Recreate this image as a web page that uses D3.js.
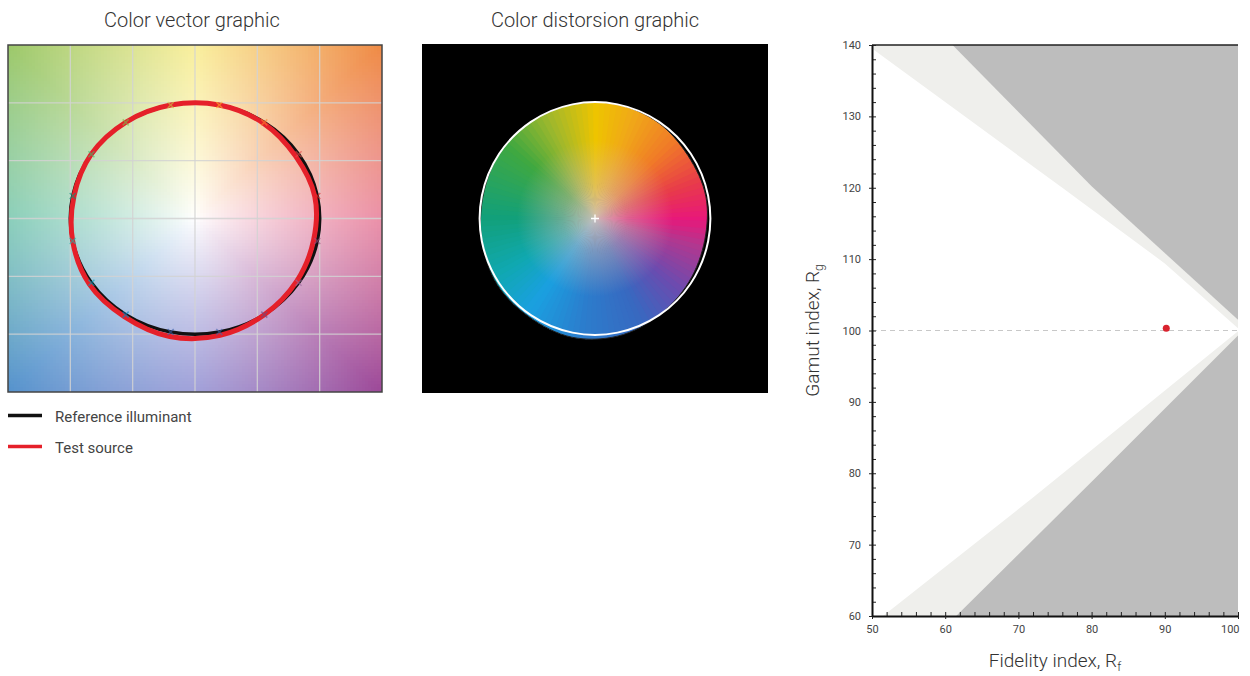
<!DOCTYPE html>
<html>
<head>
<meta charset="utf-8">
<script src="https://cdn.jsdelivr.net/npm/d3@7"></script>
<style>
body { margin: 0; background: #fff; }
svg { display: block; font-family: Roboto, "Noto Sans", sans-serif; }
</style>
</head>
<body>
<svg id="chart" width="1240" height="676"></svg>
<script>
//Data
// 16 hue bins, reference = unit circle, test = measured source (a', b')
const hueBins = [1, 2, 3, 4, 5, 6, 7, 8, 9, 10, 11, 12, 13, 14, 15, 16];
const refA = [0.981, 0.831, 0.556, 0.195, -0.195, -0.556, -0.831, -0.981, -0.981, -0.831, -0.556, -0.195, 0.195, 0.556, 0.831, 0.981];
const refB = [0.195, 0.556, 0.831, 0.981, 0.981, 0.831, 0.556, 0.195, -0.195, -0.556, -0.831, -0.981, -0.981, -0.831, -0.556, -0.195];
const testA = [0.961, 0.807, 0.550, 0.195, -0.195, -0.556, -0.832, -0.971, -0.981, -0.848, -0.567, -0.203, 0.201, 0.556, 0.815, 0.951];
const testB = [0.191, 0.539, 0.823, 0.981, 0.981, 0.832, 0.556, 0.193, -0.195, -0.567, -0.848, -1.020, -1.010, -0.832, -0.544, -0.189];
const binColors = ['#e62828', '#e74b4b', '#fb812e', '#ffb529', '#cbca46', '#7eb94c', '#41c06d', '#009c7c',
    '#16bcb0', '#00a4bf', '#0085c3', '#3b62aa', '#4568ae', '#6a4e85', '#9d69a1', '#a74f81'];
const gridTicks = [-1.5, -1, -0.5, 0, 0.5, 1, 1.5];

// background hue of the vector graphic (angle in degrees, counter-clockwise from a')
const bgAngles = [0, 45, 90, 135, 180, 225, 270, 315, 360];
const bgColors = ['#e46a8a', '#ef8a45', '#f7e97a', '#9cc86a', '#62bea2', '#5592cc', '#8080cc', '#9c4898', '#e46a8a'];
// colour wheel of the distortion graphic
const wheelAngles = [0, 20, 45, 70, 90, 115, 140, 180, 210, 235, 265, 295, 320, 345, 360];
const wheelColors = ['#e8187a', '#e83a4a', '#f07a28', '#f0a818', '#eec400', '#a0b82c', '#40a840', '#12a07a', '#10a8b0',
    '#1aa0e0', '#2c7ccc', '#3868c0', '#6a4cb0', '#b03890', '#e8187a'];

// Rf - Rg chart
const sourceRf = [90.2];
const sourceRg = [100.3];
const rfTicks = [50, 60, 70, 80, 90, 100];
const rgTicks = [60, 70, 80, 90, 100, 110, 120, 130, 140];
const upperLight = [[50, 140], [100, 140], [100, 100.3], [90, 109.4], [76, 120], [50, 139.5]];
const upperGray = [[61, 140], [100, 140], [100, 101.5], [80, 120.2]];
const lowerLight = [[51.5, 60], [100, 60], [100, 99.9], [72, 76.6]];
const lowerGray = [[61.5, 60], [100, 60], [100, 99.3], [80, 78.8]];

const legendItems = ['Reference illuminant', 'Test source'];
const legendColors = ['#111', '#e5202a'];

function hueColor(angles, colors, deg) {
    deg = ((deg % 360) + 360) % 360;
    const i = Math.min(d3.bisectRight(angles, deg) - 1, angles.length - 2);
    const t = (deg - angles[i]) / (angles[i + 1] - angles[i]);
    return d3.interpolateRgb(colors[i], colors[i + 1])(t);
}

const svg = d3.select('#chart');
const defs = svg.append('defs');
const testPts = hueBins.map((b, i) => [testA[i], testB[i]]);
const refPts = hueBins.map((b, i) => [refA[i], refB[i]]);

//---------- Color vector graphic
function drawVector() {
    const vx = d3.scaleLinear([-1.5, 1.5], [8, 382]);
    const vy = d3.scaleLinear([-1.5, 1.5], [392, 45]);
    defs.append('clipPath').attr('id', 'vclip').append('rect')
        .attr('x', 8).attr('y', 45).attr('width', 374).attr('height', 347);
    const g = svg.append('g');
    const bg = g.append('g').attr('clip-path', 'url(#vclip)');
    const cells = [];
    d3.range(8, 382, 3).forEach(px => d3.range(45, 392, 3).forEach(py => cells.push({ px, py })));
    bg.selectAll('rect').data(cells).join('rect')
        .attr('x', d => d.px).attr('y', d => d.py)
        .attr('width', 3.5).attr('height', 3.5)
        .attr('shape-rendering', 'crispEdges')
        .attr('fill', d => {
            const a = vx.invert(d.px + 1.5), b = vy.invert(d.py + 1.5);
            const dist = Math.hypot(a, b);
            const ang = Math.atan2(b, a) * 180 / Math.PI;
            const t = Math.pow(Math.min(1, dist / 2.12), 0.85);
            return d3.interpolateRgb('#ffffff', hueColor(bgAngles, bgColors, ang))(t);
        });
    // grid
    bg.selectAll('.gx').data(gridTicks.slice(1, -1)).join('line').attr('class', 'gx')
        .attr('x1', d => vx(d)).attr('x2', d => vx(d)).attr('y1', 45).attr('y2', 392)
        .attr('stroke', 'rgba(210,210,210,0.85)').attr('stroke-width', 1.3);
    bg.selectAll('.gy').data(gridTicks.slice(1, -1)).join('line').attr('class', 'gy')
        .attr('y1', d => vy(d)).attr('y2', d => vy(d)).attr('x1', 8).attr('x2', 382)
        .attr('stroke', 'rgba(210,210,210,0.85)').attr('stroke-width', 1.3);

    const line = d3.line().x(d => vx(d[0])).y(d => vy(d[1]));
    g.append('path').attr('d', line.curve(d3.curveCardinalClosed)(refPts))
        .attr('fill', 'none').attr('stroke', '#111').attr('stroke-width', 3.5);
    g.append('path').attr('d', line.curve(d3.curveCatmullRomClosed)(testPts))
        .attr('fill', 'none').attr('stroke', '#e5202a').attr('stroke-width', 5)
        .attr('stroke-linejoin', 'round');
    // hue bin markers
    g.selectAll('.mk').data(hueBins).join('path').attr('class', 'mk')
        .attr('d', (b, i) => {
            const cx = vx(refA[i]), cy = vy(refB[i]);
            return `M${cx - 3},${cy - 3}L${cx + 3},${cy + 3}M${cx - 3},${cy + 3}L${cx + 3},${cy - 3}`;
        })
        .attr('stroke', (b, i) => binColors[i]).attr('stroke-width', 1.5).attr('opacity', 0.6);

    g.append('rect').attr('x', 8).attr('y', 45).attr('width', 374).attr('height', 347)
        .attr('fill', 'none').attr('stroke', '#444').attr('stroke-width', 1.5);
    svg.append('text').attr('x', 192).attr('y', 27).attr('text-anchor', 'middle')
        .style('font-size', '20px').style('font-weight', 300).style('fill', '#333')
        .text('Color vector graphic');

    // legend
    const lg = svg.append('g').selectAll('g').data(legendItems).join('g')
        .attr('transform', (d, i) => `translate(8,${415.5 + i * 31})`);
    lg.append('line').attr('x1', 0).attr('x2', 34).attr('stroke', (d, i) => legendColors[i]).attr('stroke-width', 3.5);
    lg.append('text').attr('x', 47).attr('y', 6).style('font-size', '15px').style('fill', '#444').text(d => d);
}

//---------- Color distorsion graphic
function drawDistortion() {
    const dx = d3.scaleLinear([-1.5, 1.5], [422, 768]);
    const dy = d3.scaleLinear([-1.5, 1.5], [393, 44]);
    const g = svg.append('g');
    g.append('rect').attr('x', 422).attr('y', 44).attr('width', 346).attr('height', 349).attr('fill', '#000');
    const line = d3.line().x(d => dx(d[0])).y(d => dy(d[1])).curve(d3.curveCatmullRomClosed);
    defs.append('clipPath').attr('id', 'dclip').append('path').attr('d', line(testPts));
    const grad = defs.append('radialGradient').attr('id', 'wheelCenter');
    grad.append('stop').attr('offset', '0%').attr('stop-color', '#d8cac4').attr('stop-opacity', 0.9);
    grad.append('stop').attr('offset', '25%').attr('stop-color', '#d4bcb4').attr('stop-opacity', 0.45);
    grad.append('stop').attr('offset', '60%').attr('stop-color', '#d4bcb4').attr('stop-opacity', 0);

    const wheel = g.append('g').attr('clip-path', 'url(#dclip)');
    const cx = dx(0), cy = dy(0);
    const arc = d3.arc().innerRadius(0).outerRadius(160);
    wheel.selectAll('path').data(d3.range(0, 360, 3)).join('path')
        .attr('transform', `translate(${cx},${cy})`)
        .attr('d', a => arc({ startAngle: (90 - a - 2) * Math.PI / 180, endAngle: (90 - a + 2) * Math.PI / 180 }))
        .attr('fill', a => hueColor(wheelAngles, wheelColors, a));
    wheel.append('circle').attr('cx', cx).attr('cy', cy).attr('r', 130).attr('fill', 'url(#wheelCenter)');

    g.append('path').attr('d', line(testPts)).attr('fill', 'none').attr('stroke', '#222').attr('stroke-width', 1);
    g.append('path').attr('d', d3.line().x(d => dx(d[0])).y(d => dy(d[1])).curve(d3.curveCardinalClosed)(refPts))
        .attr('fill', 'none').attr('stroke', '#fff').attr('stroke-width', 2);
    g.append('path').attr('d', `M${cx - 4},${cy}H${cx + 4}M${cx},${cy - 4}V${cy + 4}`)
        .attr('stroke', '#fff').attr('stroke-width', 1.3);

    svg.append('text').attr('x', 595).attr('y', 27).attr('text-anchor', 'middle')
        .style('font-size', '20px').style('font-weight', 300).style('fill', '#333')
        .text('Color distorsion graphic');
}

//---------- Rf - Rg chart
function drawRfRg() {
    const x = d3.scaleLinear([50, 100], [872, 1238]);
    const y = d3.scaleLinear([60, 140], [616, 45]);
    const g = svg.append('g');
    const poly = d3.line().x(d => x(d[0])).y(d => y(d[1]));
    g.append('rect').attr('x', x(50)).attr('y', y(140)).attr('width', x(100) - x(50)).attr('height', y(60) - y(140)).attr('fill', '#fff');
    g.append('path').attr('d', poly(upperLight) + 'Z').attr('fill', '#efefec');
    g.append('path').attr('d', poly(lowerLight) + 'Z').attr('fill', '#efefec');
    g.append('path').attr('d', poly(upperGray) + 'Z').attr('fill', '#bdbdbd');
    g.append('path').attr('d', poly(lowerGray) + 'Z').attr('fill', '#bdbdbd');

    g.append('line').attr('x1', x(50)).attr('x2', x(100)).attr('y1', y(100)).attr('y2', y(100))
        .attr('stroke', '#c8c8c8').attr('stroke-width', 1).attr('stroke-dasharray', '5,4');
    g.selectAll('.pt').data(sourceRf).join('circle').attr('class', 'pt')
        .attr('cx', d => x(d)).attr('cy', (d, i) => y(sourceRg[i])).attr('r', 3.5).attr('fill', '#d9232e');

    // top border
    g.append('line').attr('x1', x(50)).attr('x2', x(100)).attr('y1', y(140)).attr('y2', y(140))
        .attr('stroke', '#222').attr('stroke-width', 1.6);

    // minor ticks (inward)
    g.append('g').attr('transform', `translate(0,${y(60)})`)
        .call(d3.axisBottom(x).tickValues(d3.range(50, 101, 2)).tickSize(-4).tickFormat(''))
        .call(a => a.select('.domain').remove());
    g.append('g').attr('transform', `translate(${x(50)},0)`)
        .call(d3.axisLeft(y).tickValues(d3.range(60, 141, 2)).tickSize(-4).tickFormat(''))
        .call(a => a.select('.domain').remove());
    // major ticks + labels
    const xAxis = g.append('g').attr('transform', `translate(0,${y(60)})`)
        .call(d3.axisBottom(x).tickValues(rfTicks).tickSizeInner(3).tickSizeOuter(0).tickPadding(6));
    const yAxis = g.append('g').attr('transform', `translate(${x(50)},0)`)
        .call(d3.axisLeft(y).tickValues(rgTicks).tickSizeInner(3).tickSizeOuter(0).tickPadding(8));
    [xAxis, yAxis].forEach(a => {
        a.select('.domain').attr('stroke', '#111').attr('stroke-width', 2);
        a.selectAll('text').style('font-size', '11px').style('fill', '#444').style('font-family', 'Roboto, sans-serif');
    });
    // last label sits flush against the right edge
    xAxis.selectAll('.tick text').filter(d => d === 100).attr('text-anchor', 'end').attr('x', 1);
    g.selectAll('.tick line').attr('stroke', '#222');

    const xl = svg.append('text').attr('x', 1055).attr('y', 667).attr('text-anchor', 'middle')
        .style('font-size', '19px').style('font-weight', 300).style('fill', '#333');
    xl.append('tspan').text('Fidelity index, R');
    xl.append('tspan').attr('dy', 4).style('font-size', '12px').text('f');
    const yl = svg.append('text').attr('transform', `translate(819,${y(100)}) rotate(-90)`).attr('text-anchor', 'middle')
        .style('font-size', '19px').style('font-weight', 300).style('fill', '#333');
    yl.append('tspan').text('Gamut index, R');
    yl.append('tspan').attr('dy', 4).style('font-size', '12px').text('g');
}

drawVector();
drawDistortion();
drawRfRg();
</script>
</body>
</html>
